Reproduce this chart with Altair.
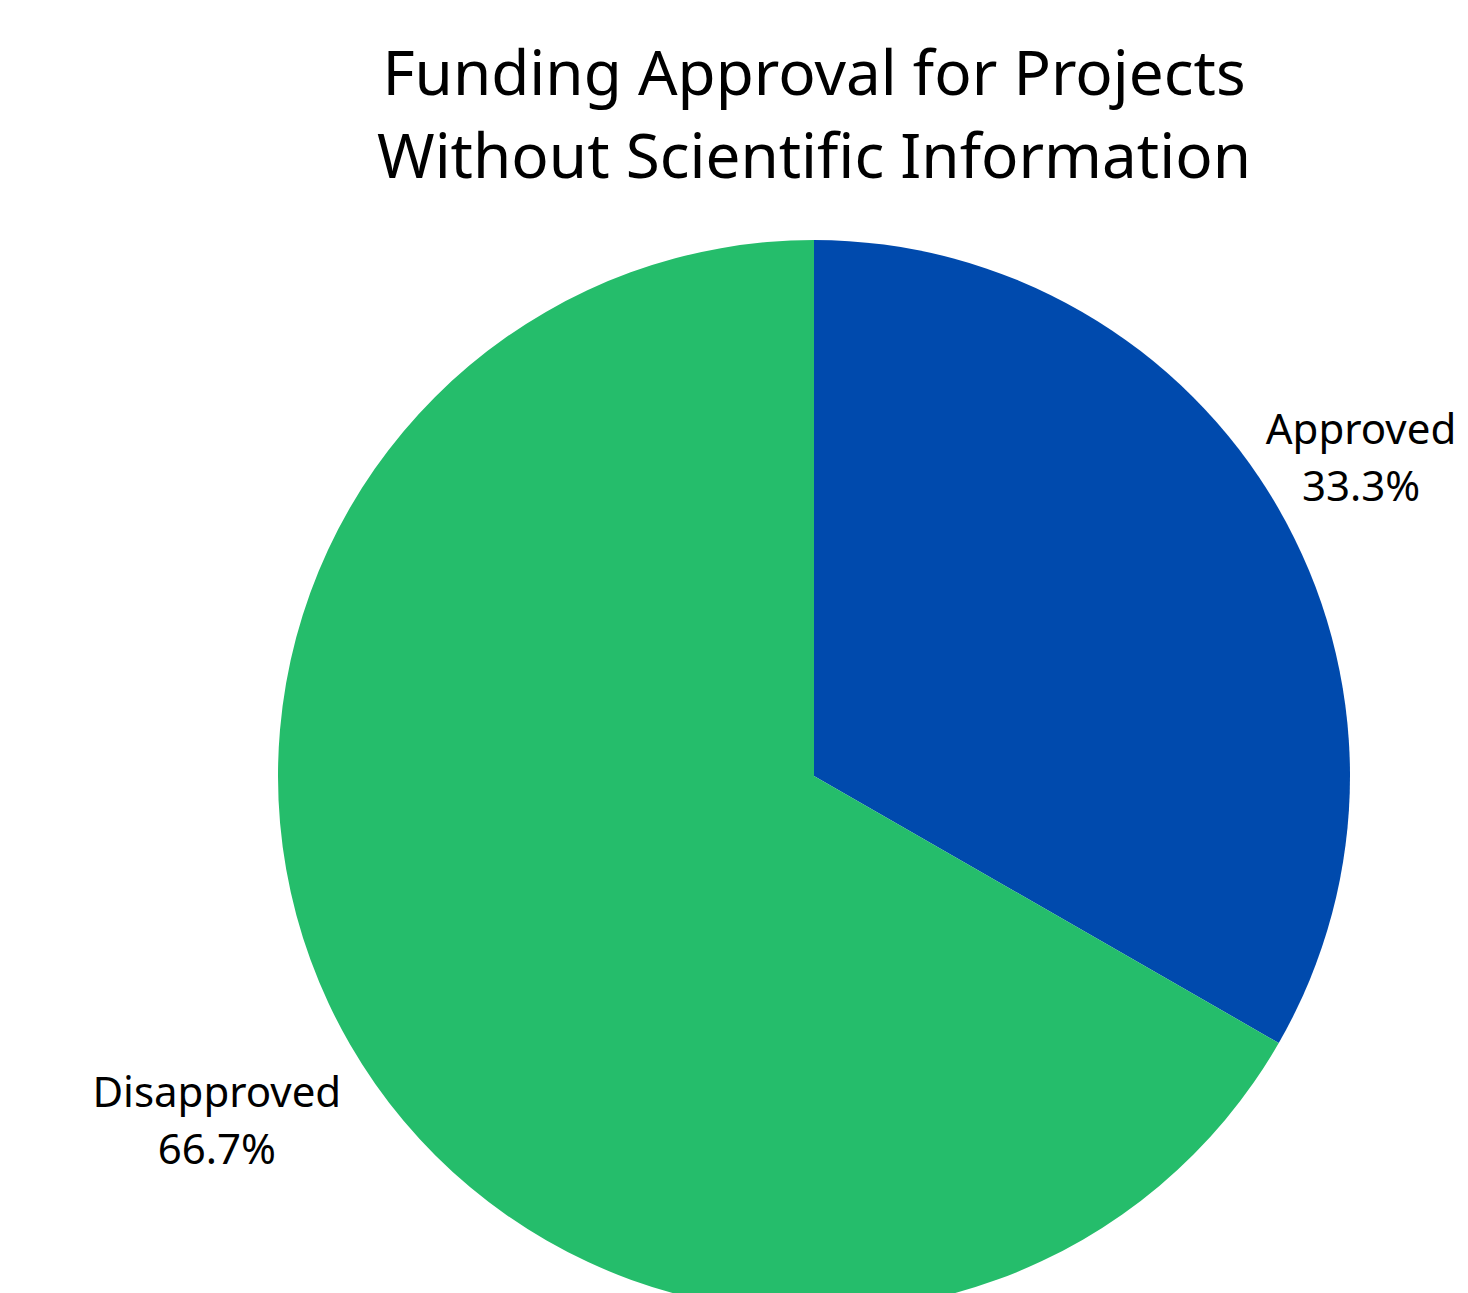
import altair as alt
import pandas as pd
import math

categories = ["Approved", "Disapproved"]
shares = [33.3, 66.7]
colors = ["#004AAD", "#25BD6B"]
title_lines = ["Funding Approval for Projects", "Without Scientific Information"]

df = pd.DataFrame({
    "category": categories,
    "share": shares,
    "order": [0, 1],
    "label": [f"{c}\n{s:.1f}%" for c, s in zip(categories, shares)],
})

CX, CY = 806, 768
FONT = "Noto Sans"

pie = alt.Chart(df).mark_arc(radius=536, stroke=None).encode(
    theta=alt.Theta("share:Q", stack=True),
    order=alt.Order("order:Q"),
    color=alt.Color("category:N", scale=alt.Scale(domain=categories, range=colors), legend=None),
    x=alt.value(CX), y=alt.value(CY),
)

def label_layer(cat, r):
    return alt.Chart(df).transform_window(
        cum="sum(share)", sort=[alt.SortField("order")],
    ).transform_joinaggregate(
        total="sum(share)",
    ).transform_calculate(
        mid="(datum.cum - datum.share / 2) / datum.total",
    ).transform_filter(
        alt.datum.category == cat
    ).mark_text(radius=r, fontSize=42, font=FONT, color="black",
                lineBreak="\n", lineHeight=57, baseline="middle", align="center", dy=-28).encode(
        theta=alt.Theta("mid:Q", scale=alt.Scale(domain=[0, 1], range=[0, 2 * math.pi])),
        text="label:N", x=alt.value(CX), y=alt.value(CY),
    )

lab_a = label_layer("Approved", 632)
lab_d = label_layer("Disapproved", 690)

tdf = pd.DataFrame({"t": ["\n".join(title_lines)]})
title = alt.Chart(tdf).mark_text(fontSize=62, font=FONT, color="black",
                                 lineBreak="\n", lineHeight=83, baseline="middle", align="center").encode(
    text="t:N", x=alt.value(CX), y=alt.value(68),
)

chart = alt.layer(pie, lab_a, lab_d, title).resolve_scale(theta="independent").properties(
    width=1452, height=1400, padding=0, autosize=alt.AutoSizeParams(type="none"),
).configure_view(stroke=None)

chart.save("out.html", embed_options={"renderer": "svg", "actions": False})
